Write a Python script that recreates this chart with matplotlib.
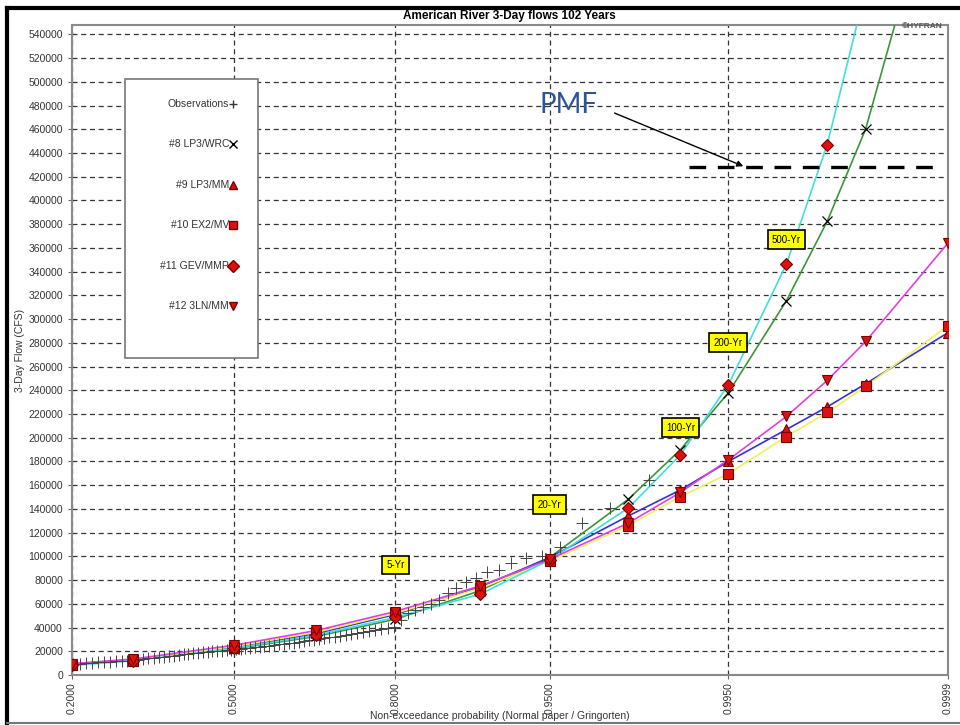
import numpy as np
import matplotlib
matplotlib.use("Agg")
import matplotlib.pyplot as plt
from statistics import NormalDist

plt.rcParams['font.family'] = ['Liberation Sans', 'DejaVu Sans']

# Return-period probabilities where the fitted curves are marked
RETURN_PROB = [0.2, 0.3, 0.5, 0.6667, 0.8, 0.9, 0.95, 0.98, 0.99, 0.995,
               0.998, 0.999, 0.9995, 0.9999]

# Fitted quantiles (CFS)
LP3_WRC = [9500, 12800, 22000, 32500, 47000, 71000, 99000, 148000, 190000,
           238000, 315600, 382500, 460400, 708000]
LP3_MM = [9000, 12500, 23000, 35000, 51000, 74000, 99000, 134000, 156000,
          180000, 207000, 226000, 245500, 288600]
EX2_MV = [8500, 12000, 24000, 36000, 52000, 73000, 96000, 126000, 150400,
          169600, 201000, 221300, 243300, 294500]
GEV_MMP = [8000, 12000, 22500, 33500, 48500, 68000, 97000, 140600, 185600,
           244700, 346500, 447200, 578000, 900000]
LN3_MM = [9500, 13500, 25000, 37500, 53500, 75000, 97500, 128000, 154000,
          181400, 218000, 248300, 281200, 364200]

# Observed annual 3-day flows (ranks 21..101 of 102 years), CFS
N_YEARS = 102
FIRST_RANK = 21
OBS_FLOW = [9000, 9500, 10000, 10300, 10600, 10900, 11200, 11500, 11800,
            12200, 12600, 13000, 13500, 14000, 14400, 14800, 15300, 15800, 16300,
            16800, 17300, 17700, 18200, 18600, 19000, 19400, 19800, 20200, 20600,
            21000, 21300, 21700, 22100, 22500, 22900, 23300, 23700, 24200, 24700,
            25200, 25700, 26200, 26800, 27300, 27900, 28500, 29100, 29700, 30300,
            31000, 31600, 32300, 33000, 33700, 34400, 35100, 35900, 36700, 37600,
            38500, 39500, 40500, 46000, 52000, 55000, 57500, 60000, 63000,
            69000, 73400, 78700, 81800, 87200, 88600, 94500, 98700, 100500,
            108000, 128200, 140900, 164500]

# Return period labels
LABEL_TEXT = ["5-Yr", "20-Yr", "100-Yr", "200-Yr", "500-Yr"]
LABEL_PROB = [0.8, 0.95, 0.99, 0.995, 0.998]
LABEL_FLOW = [92800, 143400, 208400, 280100, 367000]

PMF_FLOW = 428000
PMF_PROB = [0.9911, 0.99987]

X_TICKS = [0.2, 0.5, 0.8, 0.95, 0.995, 0.9999]

_norm = NormalDist()
_inv = np.vectorize(_norm.inv_cdf, otypes=[float])
_cdf = np.vectorize(_norm.cdf, otypes=[float])


def prob_to_z(p):
    p = np.clip(np.asarray(p, dtype=float), 1e-9, 1 - 1e-9)
    return _inv(p)


def z_to_prob(z):
    return _cdf(np.asarray(z, dtype=float))


def main() -> None:
    fig = plt.figure(figsize=(9.6, 7.25), dpi=100)
    ax = fig.add_axes([0.075, 0.069, 0.9125, 0.8966])
    ax.set_xscale('function', functions=(prob_to_z, z_to_prob))

    red = '#dd1010'
    edge = '#7a0000'
    series = [
        (LP3_WRC, '#3c963c', 'x', 'black', 'black'),
        (LP3_MM, '#3333cc', '^', red, edge),
        (EX2_MV, '#f2ee60', 's', red, edge),
        (GEV_MMP, '#40dede', 'D', red, edge),
        (LN3_MM, '#e040e0', 'v', red, edge),
    ]
    for vals, lc, mk, fc, ec in series:
        ax.plot(RETURN_PROB, vals, color=lc, linewidth=1.2, zorder=3)
    for vals, lc, mk, fc, ec in series:
        ax.plot(RETURN_PROB, vals, linestyle='none', marker=mk,
                markersize=6.5 if mk != 'x' else 7, markerfacecolor=fc,
                markeredgecolor=ec, markeredgewidth=0.8 if mk != 'x' else 0.9,
                zorder=5)

    ranks = np.arange(FIRST_RANK, FIRST_RANK + len(OBS_FLOW))
    obs_prob = (ranks - 0.44) / (N_YEARS + 0.12)
    ax.plot(obs_prob, OBS_FLOW, linestyle='none', marker='+', markersize=8,
            color='#444444', markeredgewidth=0.7, zorder=4)

    # Return period tags
    for txt, p, q in zip(LABEL_TEXT, LABEL_PROB, LABEL_FLOW):
        ax.text(p, q, txt, fontsize=7, ha='center', va='center', zorder=7,
                bbox=dict(boxstyle='square,pad=0.45', facecolor='#ffff00',
                          edgecolor='black', linewidth=1.2))

    # PMF line and annotation
    ax.plot(PMF_PROB, [PMF_FLOW, PMF_FLOW], color='black', linewidth=2.4,
            linestyle=(0, (5, 3.5)), zorder=6)
    ax.annotate('', xy=(0.99617, PMF_FLOW), xytext=(612, 725 - 112),
                textcoords='figure pixels',
                arrowprops=dict(arrowstyle='-|>', color='black', lw=1.0,
                                mutation_scale=9), zorder=6)
    fig.text(568 / 960, 1 - 105 / 725, 'PMF', fontsize=20, color='#2f5496',
             family=['Lato', 'DejaVu Sans'], ha='center', va='center')

    # Axes formatting
    ax.set_xlim(0.2, 0.9999)
    ax.set_ylim(0, 548000)
    ax.set_xticks(X_TICKS)
    ax.set_xticklabels([f"{t:.4f}" for t in X_TICKS], rotation=90)
    ax.xaxis.set_minor_locator(matplotlib.ticker.NullLocator())
    ax.set_yticks(np.arange(0, 540001, 20000))
    ax.yaxis.set_major_formatter(matplotlib.ticker.StrMethodFormatter('{x:.0f}'))
    ax.tick_params(labelsize=7.5, labelcolor='#333333', color='#666666',
                   length=3, width=0.8)
    ax.tick_params(axis='x', pad=2)
    ax.grid(True, color='#333333', linestyle=(0, (4, 3)), linewidth=0.9)
    for s in ax.spines.values():
        s.set_color('#8a8a8a')
        s.set_linewidth(1.5)
    ax.set_ylabel('3-Day Flow (CFS)', fontsize=7.5, color='#333333', labelpad=2)
    fig.text(500 / 960, 1 - 716 / 725,
             'Non-exceedance probability (Normal paper / Gringorten)',
             fontsize=7.5, color='#333333', ha='center', va='center')

    fig.text(509 / 960, 1 - 16 / 725, 'American River 3-Day flows 102 Years',
             fontsize=8.5, fontweight='bold', ha='center', va='center')
    fig.text(922 / 960, 1 - 27 / 725, '©HYFRAN', fontsize=6, color='#555555',
             fontweight='bold', ha='center', va='center', zorder=10)

    # Legend box drawn by hand (labels right-aligned, marker on the right)
    box = plt.Rectangle((0.0605, 0.4877), 0.1518, 0.4293,
                        transform=ax.transAxes, facecolor='white',
                        edgecolor='#777777', linewidth=1.2, zorder=8)
    ax.add_patch(box)
    names = ['Observations', '#8 LP3/WRC', '#9 LP3/MM', '#10 EX2/MV',
             '#11 GEV/MMP', '#12 3LN/MM']
    marks = [('+', '#333333', '#333333'), ('x', 'black', 'black'),
             ('^', red, edge), ('s', red, edge), ('D', red, edge), ('v', red, edge)]
    for k, (name, (mk, fc, ec)) in enumerate(zip(names, marks)):
        y = 0.8785 - k * 0.0622
        ax.text(0.1795, y, name, transform=ax.transAxes, fontsize=7.5,
                color='#333333', ha='right', va='center', zorder=9)
        ax.plot([0.184], [y], transform=ax.transAxes, marker=mk,
                markersize=6, markerfacecolor=fc, markeredgecolor=ec,
                markeredgewidth=1.0, linestyle='none', clip_on=False, zorder=9)

    # Screenshot frame
    fig.add_artist(plt.Line2D([0.007, 1.0], [0.989, 0.989], color='black',
                              linewidth=3, transform=fig.transFigure))
    fig.add_artist(plt.Line2D([0.0073, 0.0073], [0.003, 0.989], color='black',
                              linewidth=3, transform=fig.transFigure))
    fig.add_artist(plt.Line2D([0.007, 1.0], [0.003, 0.003], color='#777777',
                              linewidth=1.5, transform=fig.transFigure))

    fig.savefig('out.png', dpi=100)


if __name__ == "__main__":
    main()
